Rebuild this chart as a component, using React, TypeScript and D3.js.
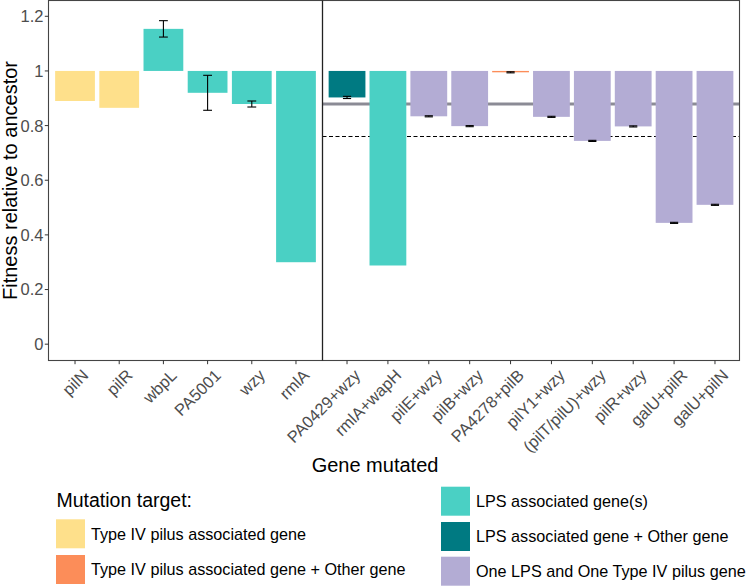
import React from 'react';
import * as d3 from 'd3';

// ---------- data ----------
const leftGenes = ['pilN', 'pilR', 'wbpL', 'PA5001', 'wzy', 'rmlA'];
const leftFitness = [0.890, 0.865, 1.154, 0.920, 0.879, 0.300];
const leftSd: (number | null)[] = [null, null, 0.030, 0.064, 0.011, null];
const leftGroup = ['t4p', 't4p', 'lps', 'lps', 'lps', 'lps'];

const rightGenes = ['PA0429+wzy', 'rmlA+wapH', 'pilE+wzy', 'pilB+wzy', 'PA4278+pilB', 'pilY1+wzy', '(pilT/pilU)+wzy', 'pilR+wzy', 'galU+pilR', 'galU+pilN'];
const rightFitness = [0.903, 0.288, 0.834, 0.798, 0.995, 0.832, 0.744, 0.797, 0.444, 0.510];
const rightSd: (number | null)[] = [0.004, null, 0.002, 0.002, 0.002, 0.002, 0.002, 0.002, 0.002, 0.002];
const rightGroup = ['lpsOther', 'lps', 'both', 'both', 't4pOther', 'both', 'both', 'both', 'both', 'both'];

const solidRef = 0.879;
const dashedRef = 0.762;

const yTicks = [0, 0.2, 0.4, 0.6, 0.8, 1, 1.2];
const yTickLabels = ['0', '0.2', '0.4', '0.6', '0.8', '1', '1.2'];

const groupKeys = ['t4p', 't4pOther', 'lps', 'lpsOther', 'both'];
const groupLabels = [
  'Type IV pilus associated gene',
  'Type IV pilus associated gene + Other gene',
  'LPS associated gene(s)',
  'LPS associated gene + Other gene',
  'One LPS and One Type IV pilus gene',
];
const groupColors = ['#fee08b', '#fc8d59', '#4ad0c4', '#007a82', '#b3acd4'];

// ---------- layout ----------
const W = 750, H = 586;
const panelTop = 0.5, panelBottom = 360.5;
const panelLeft = 48.5, divider = 322.5, panelRight = 739.5;
const FONT = '"Liberation Sans", Arial, Helvetica, sans-serif';

const color = d3.scaleOrdinal<string, string>().domain(groupKeys).range(groupColors);
const y = d3.scaleLinear().domain([-0.0597, 1.2578]).range([panelBottom, panelTop]);
const xLeft = d3.scalePoint<string>().domain(leftGenes).range([panelLeft, divider]).padding(0.6);
const xRight = d3.scalePoint<string>().domain(rightGenes).range([divider, panelRight]).padding(0.6);

type Row = { gene: string; v: number; sd: number | null; g: string; x: number; step: number };
const rows: Row[] = [
  ...leftGenes.map((gene, i) => ({ gene, v: leftFitness[i], sd: leftSd[i], g: leftGroup[i], x: xLeft(gene)!, step: xLeft.step() })),
  ...rightGenes.map((gene, i) => ({ gene, v: rightFitness[i], sd: rightSd[i], g: rightGroup[i], x: xRight(gene)!, step: xRight.step() })),
];

const legendLeft = [
  { k: 0, x: 56, y: 519.3 },
  { k: 1, x: 56, y: 555 },
];
const legendRight = [
  { k: 2, x: 441, y: 486.7 },
  { k: 3, x: 441, y: 522 },
  { k: 4, x: 441, y: 556.7 },
];

export default function App() {
  const y1 = y(1);
  return (
    <svg width={W} height={H} style={{ position: 'absolute', left: 0, top: 0, background: '#fff' }} fontFamily={FONT}>
      <rect x={0} y={0} width={W} height={H} fill="#fff" />
      {/* reference lines (right panel) */}
      <line x1={divider} x2={panelRight} y1={y(solidRef)} y2={y(solidRef)} stroke="#8b8b95" strokeWidth={2.8} />
      <line x1={divider} x2={panelRight} y1={Math.round(y(dashedRef)) + 0.5} y2={Math.round(y(dashedRef)) + 0.5} stroke="#000" strokeWidth={1.1} strokeDasharray="4,2.5" />
      {/* bars */}
      {rows.map((r) => {
        const bw = r.step * 0.9;
        const top = Math.min(y1, y(r.v));
        const h = Math.abs(y1 - y(r.v));
        return <rect key={r.gene} x={r.x - bw / 2} y={top} width={bw} height={Math.max(h, 1)} fill={color(r.g)} />;
      })}
      {/* error bars */}
      {rows.filter((r) => r.sd !== null).map((r) => {
        const cw = r.step * 0.2;
        const a = y(r.v + (r.sd as number));
        const b = y(r.v - (r.sd as number));
        return (
          <g key={'e' + r.gene} stroke="#000" strokeWidth={1.1}>
            <line x1={r.x} x2={r.x} y1={a} y2={b} />
            <line x1={r.x - cw / 2} x2={r.x + cw / 2} y1={a} y2={a} />
            <line x1={r.x - cw / 2} x2={r.x + cw / 2} y1={b} y2={b} />
          </g>
        );
      })}
      {/* panel border + divider */}
      <rect x={panelLeft} y={panelTop} width={panelRight - panelLeft} height={panelBottom - panelTop} fill="none" stroke="#444" strokeWidth={1.1} />
      <line x1={divider} x2={divider} y1={panelTop} y2={panelBottom} stroke="#222" strokeWidth={1.3} />
      {/* y axis */}
      {yTicks.map((t, i) => (
        <g key={'y' + t}>
          <line x1={panelLeft - 3.7} x2={panelLeft} y1={y(t)} y2={y(t)} stroke="#333" strokeWidth={1} />
          <text x={panelLeft - 5} y={y(t)} dy="0.36em" textAnchor="end" fontSize={16.5} fill="#4d4d4d">{yTickLabels[i]}</text>
        </g>
      ))}
      {/* x axis */}
      {rows.map((r) => (
        <g key={'x' + r.gene}>
          <line x1={r.x} x2={r.x} y1={panelBottom} y2={panelBottom + 3.7} stroke="#333" strokeWidth={1} />
          <text transform={`translate(${r.x + 6},${368}) rotate(-45)`} dy="0.72em" textAnchor="end" fontSize={16.5} fill="#4d4d4d">{r.gene}</text>
        </g>
      ))}
      {/* axis titles */}
      <text transform={`translate(17,${(panelTop + panelBottom) / 2}) rotate(-90)`} textAnchor="middle" fontSize={20} fill="#000">Fitness relative to ancestor</text>
      <text x={375} y={472} textAnchor="middle" fontSize={20} fill="#000">Gene mutated</text>
      {/* legend */}
      <text x={56.5} y={506.7} fontSize={19.5} fill="#000">Mutation target:</text>
      {[...legendLeft, ...legendRight].map((l) => (
        <g key={'l' + l.k}>
          <rect x={l.x} y={l.y} width={29} height={29} fill={color(groupKeys[l.k])} />
          <text x={l.x + 35} y={l.y + 14.5} dy="0.36em" fontSize={16.2} fill="#000">{groupLabels[l.k]}</text>
        </g>
      ))}
    </svg>
  );
}
